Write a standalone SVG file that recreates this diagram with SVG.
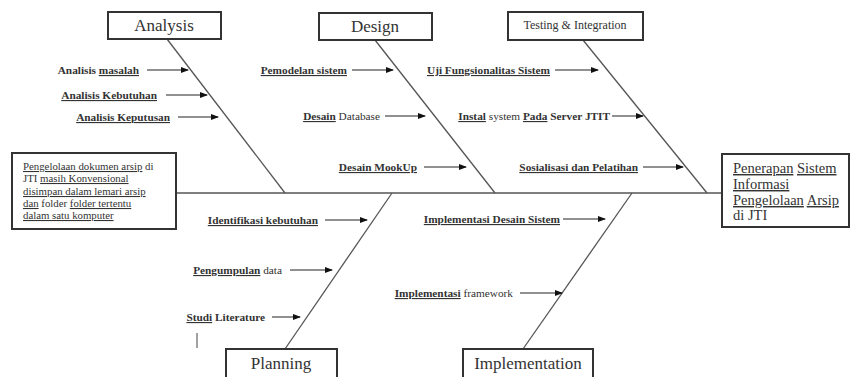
<svg xmlns="http://www.w3.org/2000/svg" width="852" height="377" viewBox="0 0 852 377">
<style>
.box{fill:#fff;stroke:#333;stroke-width:2}
.bone{stroke:#555;stroke-width:1.3;fill:none}
.arr{stroke:#222;stroke-width:1;fill:none;marker-end:url(#ah)}
text{font-family:'Liberation Serif','Times New Roman',Times,'DejaVu Serif',serif}
.cat{font-size:17px;fill:#333;text-anchor:middle}
.lbl{font-size:11.3px;font-weight:bold;fill:#333;text-anchor:end}
.n{font-weight:normal}
.box-t{font-size:10.8px;fill:#333}
.rt{font-size:14.5px;fill:#333}
.u{text-decoration:underline}
</style>
<defs>
<marker id="ah" markerWidth="8" markerHeight="6" refX="7" refY="3" orient="auto" markerUnits="userSpaceOnUse">
<path d="M0,0 L8,3 L0,6 Z" fill="#111"/>
</marker>
</defs>
<rect width="852" height="377" fill="#fff"/>

<g id="connectors">
<line class="bone" x1="176" y1="193" x2="722" y2="193"/>
<line class="bone" x1="167" y1="39" x2="285" y2="193"/>
<line class="bone" x1="375" y1="40" x2="495" y2="193"/>
<line class="bone" x1="583" y1="40" x2="707" y2="193"/>
<line class="bone" x1="392" y1="193" x2="285" y2="349"/>
<line class="bone" x1="632" y1="193" x2="523" y2="349"/>
<line class="arr" x1="147" y1="70" x2="188" y2="70"/>
<line class="arr" x1="166" y1="95" x2="207" y2="95"/>
<line class="arr" x1="178" y1="117" x2="218" y2="117"/>
<line class="arr" x1="352" y1="70" x2="393" y2="70"/>
<line class="arr" x1="385" y1="116" x2="425" y2="116"/>
<line class="arr" x1="424" y1="167" x2="466" y2="167"/>
<line class="arr" x1="555" y1="70" x2="598" y2="70"/>
<line class="arr" x1="612" y1="116" x2="643" y2="116"/>
<line class="arr" x1="643" y1="167" x2="683" y2="167"/>
<line class="arr" x1="325" y1="220" x2="367" y2="220"/>
<line class="arr" x1="290" y1="270" x2="332" y2="270"/>
<line class="arr" x1="272" y1="317" x2="300" y2="317"/>
<line class="arr" x1="563" y1="219" x2="605" y2="219"/>
<line class="arr" x1="520" y1="293" x2="562" y2="293"/>
<line x1="197" y1="333" x2="197" y2="348" stroke="#444" stroke-width="1"/>
</g>

<g id="analysis">
<rect class="box" x="108" y="12" width="113" height="27"/>
<text class="cat" x="164" y="31">Analysis</text>
</g>
<g id="design">
<rect class="box" x="319" y="13" width="113" height="27"/>
<text class="cat" x="375" y="32">Design</text>
</g>
<g id="testing">
<rect class="box" x="508" y="12" width="135" height="28"/>
<text class="cat" x="575" y="29" style="font-size:12px">Testing &amp; Integration</text>
</g>
<g id="planning">
<rect class="box" x="226" y="349" width="111" height="30"/>
<text class="cat" x="281" y="369">Planning</text>
</g>
<g id="implementation">
<rect class="box" x="463" y="349" width="130" height="30"/>
<text class="cat" x="528" y="369">Implementation</text>
</g>

<g id="problem">
<rect class="box" x="12" y="153" width="164" height="76"/>
<text class="box-t" x="23" y="170"><tspan class="u">Pengelolaan dokumen arsip</tspan> di</text>
<text class="box-t" x="23" y="182">JTI <tspan class="u">masih Konvensional</tspan></text>
<text class="box-t" x="23" y="195"><tspan class="u">disimpan dalam lemari arsip</tspan></text>
<text class="box-t" x="23" y="207"><tspan class="u">dan</tspan> folder <tspan class="u">folder tertentu</tspan></text>
<text class="box-t" x="23" y="219"><tspan class="u">dalam satu komputer</tspan></text>
</g>

<g id="result">
<rect class="box" x="722" y="154" width="127" height="73"/>
<text class="rt" x="733" y="173"><tspan class="u">Penerapan</tspan> <tspan class="u">Sistem</tspan></text>
<text class="rt" x="733" y="189"><tspan class="u">Informasi</tspan></text>
<text class="rt" x="733" y="205"><tspan class="u">Pengelolaan</tspan> <tspan class="u">Arsip</tspan></text>
<text class="rt" x="733" y="220">di JTI</text>
</g>

<g id="labels-analysis">
<text class="lbl" x="139" y="74">Analisis <tspan class="u">masalah</tspan></text>
<text class="lbl" x="157" y="99"><tspan class="u">Analisis Kebutuhan</tspan></text>
<text class="lbl" x="170" y="121"><tspan class="u">Analisis Keputusan</tspan></text>
</g>
<g id="labels-design">
<text class="lbl" x="347" y="74"><tspan class="u">Pemodelan sistem</tspan></text>
<text class="lbl" x="380" y="120"><tspan class="u">Desain</tspan> <tspan class="n">Database</tspan></text>
<text class="lbl" x="417" y="171"><tspan class="u">Desain MookUp</tspan></text>
</g>
<g id="labels-testing">
<text class="lbl" x="550" y="74"><tspan class="u">Uji Fungsionalitas Sistem</tspan></text>
<text class="lbl" x="610" y="120"><tspan class="u">Instal</tspan> <tspan class="n">system</tspan> <tspan class="u">Pada</tspan> Server JTIT</text>
<text class="lbl" x="638" y="171"><tspan class="u">Sosialisasi dan Pelatihan</tspan></text>
</g>
<g id="labels-planning">
<text class="lbl" x="318" y="224"><tspan class="u">Identifikasi kebutuhan</tspan></text>
<text class="lbl" x="282" y="274"><tspan class="u">Pengumpulan</tspan> <tspan class="n">data</tspan></text>
<text class="lbl" x="265" y="321"><tspan class="u">Studi</tspan> Literature</text>
</g>
<g id="labels-implementation">
<text class="lbl" x="560" y="223"><tspan class="u">Implementasi Desain Sistem</tspan></text>
<text class="lbl" x="513" y="297"><tspan class="u">Implementasi</tspan> <tspan class="n">framework</tspan></text>
</g>
</svg>
